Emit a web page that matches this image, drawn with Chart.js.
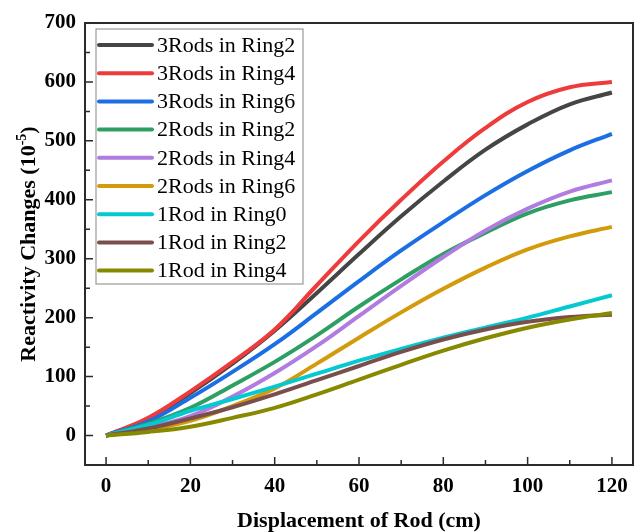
<!DOCTYPE html>
<html>
<head>
<meta charset="utf-8">
<script src="https://cdn.jsdelivr.net/npm/chart.js@4.4.1/dist/chart.umd.min.js"></script>
<style>
  html, body { margin: 0; padding: 0; background: #fff; }
  canvas { display: block; }
</style>
</head>
<body>
<canvas id="c" width="638" height="532"></canvas>
<script>
// ---- data ----
const displacement = [0, 10, 20, 30, 40, 50, 60, 70, 80, 90, 100, 110, 120];
const rods3Ring2 = [0, 28, 72, 122, 178, 242, 308, 372, 431, 485, 528, 562, 582];
const rods3Ring4 = [0, 30, 75, 125, 180, 255, 330, 400, 465, 522, 566, 591, 600];
const rods3Ring6 = [0, 24, 64, 108, 155, 208, 262, 314, 362, 408, 449, 484, 512];
const rods2Ring2 = [0, 20, 47, 85, 125, 170, 219, 265, 308, 344, 377, 399, 413];
const rods2Ring4 = [0, 14, 33, 66, 106, 152, 203, 254, 303, 348, 385, 414, 433];
const rods2Ring6 = [0, 10, 25, 50, 80, 122, 166, 209, 249, 285, 316, 338, 354];
const rod1Ring0  = [0, 18, 42, 62, 83, 105, 127, 147, 166, 183, 200, 219, 238];
const rod1Ring2  = [0, 12, 29, 48, 70, 94, 118, 142, 163, 180, 193, 201, 205];
const rod1Ring4  = [0, 6, 15, 30, 47, 70, 95, 120, 144, 165, 183, 197, 208];

const seriesLabels = ["3Rods in Ring2", "3Rods in Ring4", "3Rods in Ring6",
                      "2Rods in Ring2", "2Rods in Ring4", "2Rods in Ring6",
                      "1Rod in Ring0", "1Rod in Ring2", "1Rod in Ring4"];
const seriesValues = [rods3Ring2, rods3Ring4, rods3Ring6, rods2Ring2, rods2Ring4,
                      rods2Ring6, rod1Ring0, rod1Ring2, rod1Ring4];
const seriesColors = ["#454545", "#ee3b3b", "#1c6fe3", "#2e9f62", "#b07ce0",
                      "#d39b0c", "#04c9d0", "#7b4e4e", "#878a00"];

const xTickLabels = [0, 20, 40, 60, 80, 100, 120];
const yTickLabels = [0, 100, 200, 300, 400, 500, 600, 700];
const xAxisTitle = "Displacement of Rod (cm)";
const yAxisTitleMain = "Reactivity Changes (10";
const yAxisTitleSup = "-5";
const yAxisTitleEnd = ")";

const SERIF = '"Liberation Serif", "Times New Roman", serif';

const datasets = seriesLabels.map((label, i) => ({
  label: label,
  data: displacement.map((x, k) => ({ x: x, y: seriesValues[i][k] })),
  borderColor: seriesColors[i],
  backgroundColor: seriesColors[i],
  borderWidth: 4,
  pointRadius: 0,
  fill: false,
  tension: 0.4,
  order: seriesLabels.length - i
}));

function midpoints(arr) {
  const out = [];
  for (let i = 0; i < arr.length - 1; i++) out.push((arr[i] + arr[i + 1]) / 2);
  return out;
}

const framePlugin = {
  id: 'frame',
  afterDraw(chart) {
    const ctx = chart.ctx;
    const a = chart.chartArea;
    const xs = chart.scales.x, ys = chart.scales.y;
    ctx.save();
    ctx.strokeStyle = '#2b2b2b';
    ctx.lineWidth = 2;
    ctx.strokeRect(a.left, a.top, a.right - a.left, a.bottom - a.top);
    ctx.lineWidth = 1.5;
    ctx.beginPath();
    xTickLabels.forEach(v => { const p = xs.getPixelForValue(v); ctx.moveTo(p, a.bottom); ctx.lineTo(p, a.bottom - 8); });
    midpoints(xTickLabels).forEach(v => { const p = xs.getPixelForValue(v); ctx.moveTo(p, a.bottom); ctx.lineTo(p, a.bottom - 5); });
    yTickLabels.forEach(v => { const p = ys.getPixelForValue(v); ctx.moveTo(a.left, p); ctx.lineTo(a.left + 8, p); });
    midpoints(yTickLabels).forEach(v => { const p = ys.getPixelForValue(v); ctx.moveTo(a.left, p); ctx.lineTo(a.left + 5, p); });
    ctx.stroke();

    // axis titles
    ctx.fillStyle = '#000';
    ctx.font = 'bold 22px ' + SERIF;
    ctx.textAlign = 'center';
    ctx.textBaseline = 'alphabetic';
    ctx.fillText(xAxisTitle, (a.left + a.right) / 2, 527);

    ctx.save();
    ctx.translate(35, (a.top + a.bottom) / 2);
    ctx.rotate(-Math.PI / 2);
    ctx.textAlign = 'left';
    const fMain = 'bold 22px ' + SERIF, fSup = 'bold 14px ' + SERIF;
    ctx.font = fMain; const w1 = ctx.measureText(yAxisTitleMain).width;
    const w3 = ctx.measureText(yAxisTitleEnd).width;
    ctx.font = fSup; const w2 = ctx.measureText(yAxisTitleSup).width;
    let x0 = -(w1 + w2 + w3) / 2;
    ctx.font = fMain; ctx.fillText(yAxisTitleMain, x0, 0);
    ctx.font = fSup; ctx.fillText(yAxisTitleSup, x0 + w1, -9);
    ctx.font = fMain; ctx.fillText(yAxisTitleEnd, x0 + w1 + w2, 0);
    ctx.restore();

    // legend
    const lx = a.left + 11, ly = a.top + 6, lw = 207, lh = 255;
    ctx.fillStyle = '#fff';
    ctx.fillRect(lx, ly, lw, lh);
    ctx.strokeStyle = '#9a9a9a';
    ctx.lineWidth = 1.2;
    ctx.strokeRect(lx, ly, lw, lh);
    ctx.font = '22px ' + SERIF;
    ctx.textAlign = 'left';
    ctx.textBaseline = 'middle';
    seriesLabels.forEach((label, i) => {
      const yy = ly + 16 + i * 28.2;
      ctx.strokeStyle = seriesColors[i];
      ctx.lineWidth = 4;
      ctx.lineCap = 'round';
      ctx.beginPath();
      ctx.moveTo(lx + 3, yy);
      ctx.lineTo(lx + 56, yy);
      ctx.stroke();
      ctx.fillStyle = '#000';
      ctx.fillText(label, lx + 61, yy + 1);
    });
    ctx.restore();
  }
};

new Chart(document.getElementById('c'), {
  type: 'line',
  data: { datasets: datasets },
  options: {
    responsive: false,
    animation: false,
    layout: { padding: { top: 23, right: 5, left: 0, bottom: 0 } },
    plugins: { legend: { display: false }, tooltip: { enabled: false } },
    scales: {
      x: {
        type: 'linear', min: -5, max: 125,
        grid: { display: false, drawTicks: false },
        border: { display: false },
        afterBuildTicks: s => { s.ticks = xTickLabels.map(v => ({ value: v })); },
        afterFit: s => { s.height = 67; },
        ticks: { color: '#000', font: { family: SERIF, size: 21, weight: 'bold' }, padding: 9, maxRotation: 0 }
      },
      y: {
        type: 'linear', min: -50, max: 700,
        grid: { display: false, drawTicks: false },
        border: { display: false },
        afterBuildTicks: s => { s.ticks = yTickLabels.map(v => ({ value: v })); },
        afterFit: s => { s.width = 85; },
        ticks: { color: '#000', font: { family: SERIF, size: 21, weight: 'bold' }, padding: 9 }
      }
    }
  },
  plugins: [framePlugin]
});
</script>
</body>
</html>
